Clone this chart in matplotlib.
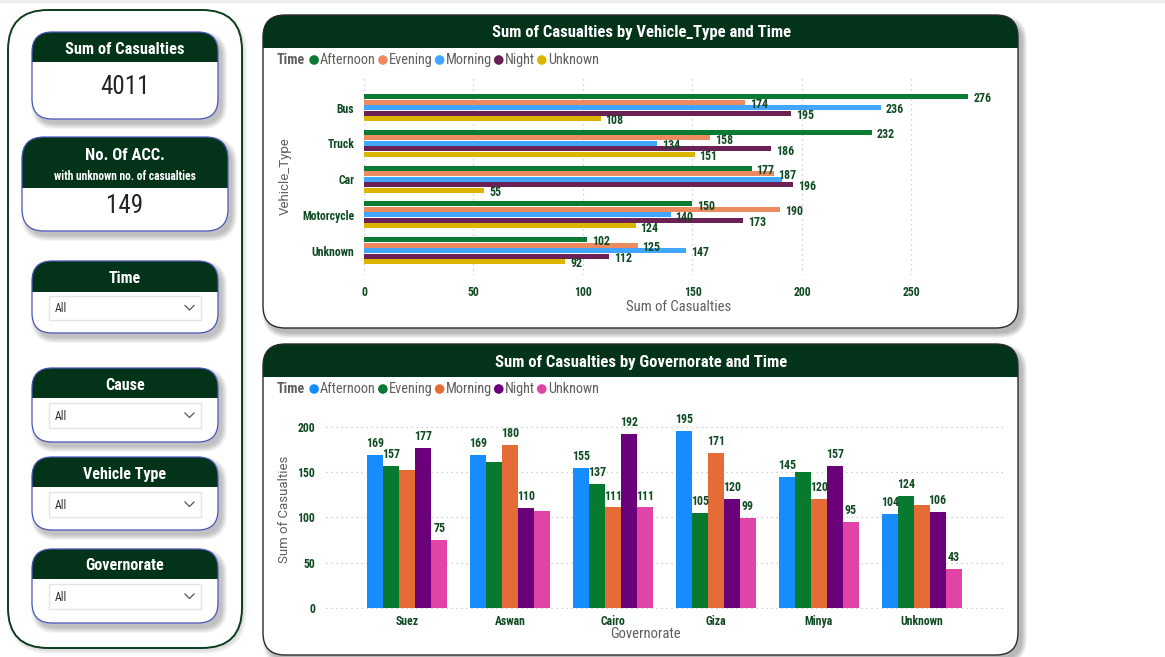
import matplotlib
matplotlib.use('Agg')
import matplotlib.pyplot as plt
from matplotlib.patches import FancyBboxPatch, Rectangle, Circle
from matplotlib import font_manager as fm
import numpy as np

# ---------------- data ----------------
time_levels = ['Afternoon', 'Evening', 'Morning', 'Night', 'Unknown']

vehicle_types = ['Bus', 'Truck', 'Car', 'Motorcycle', 'Unknown']
veh_afternoon = [276, 232, 177, 150, 102]
veh_evening = [174, 158, 187, 190, 125]
veh_morning = [236, 134, 191, 140, 147]
veh_night = [195, 186, 196, 173, 112]
veh_unknown = [108, 151, 55, 124, 92]
veh_hidden_labels = [('Car', 'Morning')]

governorates = ['Suez', 'Aswan', 'Cairo', 'Giza', 'Minya', 'Unknown']
gov_afternoon = [169, 169, 155, 195, 145, 104]
gov_evening = [157, 161, 137, 105, 150, 124]
gov_morning = [152, 180, 111, 171, 120, 114]
gov_night = [177, 110, 192, 120, 157, 106]
gov_unknown = [75, 107, 111, 99, 95, 43]
gov_hidden_labels = [('Suez', 'Morning'), ('Aswan', 'Evening'), ('Aswan', 'Unknown'),
                     ('Minya', 'Evening'), ('Unknown', 'Morning')]

veh_ticks = [0, 50, 100, 150, 200, 250]
gov_ticks = [0, 50, 100, 150, 200]

total_casualties = 4011
unknown_casualty_accidents = 149
slicers = ['Time', 'Cause', 'Vehicle Type', 'Governorate']
slicer_value = 'All'

# ---------------- style ----------------
W, H = 1165, 657
GREEN = '#03341a'
CARD_EC = '#4b56b8'
LBL = '#0f4a22'
GRAY = '#605E5C'
top_colors = ['#0b7a32', '#ec8b5f', '#42a5ff', '#6c2155', '#dcb500']
bot_colors = ['#168dff', '#087a2f', '#e66c37', '#6b007b', '#e044a7']

avail = {f.name for f in fm.fontManager.ttflist}
COND, STRETCH, K = 'Roboto', 'normal', 0.9
for cand in ['Roboto Condensed', 'Liberation Sans Narrow', 'DejaVu Sans Condensed']:
    if cand in avail:
        COND, STRETCH, K = cand, 'normal', 1.0
        break
else:
    if any(f.name == 'DejaVu Sans' and str(f.stretch) == 'condensed' for f in fm.fontManager.ttflist):
        COND, STRETCH, K = 'DejaVu Sans', 'condensed', 0.95
CF = dict(family=COND, stretch=STRETCH)
REG = 'Roboto'

fig = plt.figure(figsize=(W / 100, H / 100), dpi=100)
fig.patch.set_facecolor('white')
bg = fig.add_axes([0, 0, 1, 1], zorder=0)
bg.set_xlim(0, W)
bg.set_ylim(H, 0)
bg.axis('off')


def rrect(x0, y0, x1, y1, r, fc='none', ec='none', lw=0, z=1, alpha=1.0, clip=None):
    p = FancyBboxPatch((x0, y0), x1 - x0, y1 - y0,
                       boxstyle=f"round,pad=0,rounding_size={r}",
                       fc=fc, ec=ec, lw=lw, zorder=z, alpha=alpha,
                       transform=bg.transData)
    bg.add_patch(p)
    if clip is not None:
        cr = Rectangle((clip[0], clip[1]), clip[2] - clip[0], clip[3] - clip[1],
                       transform=bg.transData, fc='none', ec='none')
        p.set_clip_path(cr)
    return p


def shadow(x0, y0, x1, y1, r, dx=4, dy=5, n=6, alpha=0.045, z=1):
    for i in range(n):
        rrect(x0 + dx - i, y0 + dy - i, x1 + dx + i, y1 + dy + i, r + i,
              fc='black', alpha=alpha, z=z)


def card(x0, y0, x1, y1, hy, r=20):
    shadow(x0, y0, x1, y1, r, z=2)
    rrect(x0, y0, x1, y1, r, fc='white', z=3)
    rrect(x0, y0, x1, y1, r, fc=GREEN, z=4, clip=(x0 - 2, y0 - 2, x1 + 2, hy))
    rrect(x0, y0, x1, y1, r, ec=CARD_EC, lw=0.9, z=5)


# top gray band
bg.add_patch(Rectangle((0, 0), W, 3, fc='#ececec', ec='none', zorder=1))

# ---------------- left panel ----------------
shadow(8, 10, 242, 648, 40, dx=2, dy=3, n=4, alpha=0.03, z=1)
rrect(8, 10, 242, 648, 40, fc='white', ec='#0b3d1c', lw=1.4, z=1.5)

# KPI 1
card(32, 32, 218, 119, 62)
bg.text(125, 49, 'Sum of Casualties', color='white', fontweight='bold', size=11.8 * K,
        ha='center', va='center', zorder=6, **CF)
bg.text(125, 87, f'{total_casualties}', color='#252423', size=18 * K,
        ha='center', va='center', zorder=6, **CF)

# KPI 2
card(22, 137, 228, 231, 188, r=22)
bg.text(125, 156, 'No. Of ACC.', color='white', fontweight='bold', size=12 * K,
        ha='center', va='center', zorder=6, **CF)
bg.text(125, 177, 'with unknown no. of casualties', color='white', fontweight='bold',
        size=8.3 * K, ha='center', va='center', zorder=6, **CF)
bg.text(125, 206, f'{unknown_casualty_accidents}', color='#252423', size=18 * K,
        ha='center', va='center', zorder=6, **CF)

# slicers
slicer_boxes = [(261, 292, 333, 296, 320), (368, 398, 442, 403, 428),
                (457, 487, 530, 492, 517), (549, 579, 623, 584, 609)]
for name, (t, hy, b, d0, d1) in zip(slicers, slicer_boxes):
    card(32, t, 218, b, hy)
    bg.text(125, (t + hy) / 2 + 2, name, color='white', fontweight='bold', size=11.5 * K,
            ha='center', va='center', zorder=6, **CF)
    bg.add_patch(Rectangle((49, d0), 152, d1 - d0, fc='white', ec='#e4e4e4', lw=1, zorder=6))
    cy = (d0 + d1) / 2
    bg.text(55, cy + 1, slicer_value, color='#333333', size=8.5 * K, ha='left', va='center',
            zorder=7, **CF)
    bg.plot([185, 189.5, 194], [cy - 2.5, cy + 2, cy - 2.5], color='#555555', lw=0.9, zorder=7)


# ---------------- chart panels ----------------
def panel(x0, y0, x1, y1, hy, title):
    shadow(x0, y0, x1, y1, 22, dx=4, dy=5, n=6, alpha=0.05, z=1)
    rrect(x0, y0, x1, y1, 22, fc='white', z=2)
    rrect(x0, y0, x1, y1, 22, fc=GREEN, z=3, clip=(x0 - 2, y0 - 2, x1 + 2, hy))
    rrect(x0, y0, x1, y1, 22, ec='#2b2b2b', lw=1.0, z=4)
    bg.text((x0 + x1) / 2 + 1, (y0 + hy) / 2 + 1.5, title, color='white', fontweight='bold',
            size=12 * K, ha='center', va='center', zorder=5, **CF)


panel(263, 15, 1018, 328, 48, 'Sum of Casualties by Vehicle_Type and Time')
panel(263, 344, 1018, 655, 377, 'Sum of Casualties by Governorate and Time')

renderer = fig.canvas.get_renderer()


def legend(y, colors):
    t = bg.text(277, y, 'Time', color=GRAY, fontweight='bold', size=10 * K, ha='left',
                va='center', zorder=6, **CF)
    x = t.get_window_extent(renderer).x1 + 4
    for name, c in zip(time_levels, colors):
        bg.add_patch(Circle((x + 5, y), 4.8, fc=c, ec='none', zorder=6))
        tt = bg.text(x + 11, y, name, color=GRAY, size=10.3 * K, ha='left', va='center',
                     zorder=6, **CF)
        x = tt.get_window_extent(renderer).x1 + 2


legend(60, top_colors)
legend(389, bot_colors)


def px_axes(l, t, r, b):
    a = fig.add_axes([l / W, 1 - b / H, (r - l) / W, (b - t) / H], zorder=10)
    a.set_facecolor('none')
    for s in a.spines.values():
        s.set_visible(False)
    return a


# ---------------- top chart ----------------
ax1 = px_axes(364, 78, 1005, 275)
veh_series = [veh_afternoon, veh_evening, veh_morning, veh_night, veh_unknown]
cat_y = np.arange(len(vehicle_types))
step, bh = 0.154, 0.138
for i, (vals, col, tl) in enumerate(zip(veh_series, top_colors, time_levels)):
    ys = cat_y + (i - 2) * step
    ax1.barh(ys, vals, height=bh, color=col, zorder=3)
    for cat, yy, v in zip(vehicle_types, ys, vals):
        if (cat, tl) in veh_hidden_labels:
            continue
        ax1.annotate(f'{v}', (v, yy), xytext=(3.5, -1.5), textcoords='offset points',
                     ha='left', va='center', color=LBL, fontweight='bold', size=8.6 * K,
                     zorder=5, **CF)
ax1.set_xlim(0, 292.7)
ax1.set_ylim(4.68, -0.83)
ax1.set_xticks(veh_ticks)
ax1.set_yticks(cat_y)
ax1.set_yticklabels(vehicle_types)
ax1.tick_params(length=0, colors=LBL, labelsize=8.5 * K)
ax1.tick_params(axis='y', pad=7)
ax1.tick_params(axis='x', pad=8)
for lab in ax1.get_xticklabels() + ax1.get_yticklabels():
    lab.set_fontweight('bold')
    lab.set_family(COND)
    lab.set_stretch(STRETCH)
ax1.grid(axis='x', linestyle=(0, (1, 3)), color='#c4c4c4', lw=0.9, zorder=0)
ax1.set_axisbelow(True)
ax1.set_xlabel('Sum of Casualties', color=GRAY, size=10.5 * K, family=COND, stretch=STRETCH)
ax1.xaxis.set_label_coords((679 - 364) / (1005 - 364), (275 - 307) / (275 - 78))
ax1.xaxis.label.set_va('center')
ax1.set_ylabel('Vehicle_Type', color=GRAY, size=9.5 * K, family=REG)
ax1.yaxis.set_label_coords((285 - 364) / (1005 - 364), 0.5)
ax1.yaxis.label.set_va('center')

# ---------------- bottom chart ----------------
ax2 = px_axes(326, 410, 1005, 609)
gov_series = [gov_afternoon, gov_evening, gov_morning, gov_night, gov_unknown]
cx = np.arange(len(governorates))
bw = 0.155
for i, (vals, col, tl) in enumerate(zip(gov_series, bot_colors, time_levels)):
    xs = cx + (i - 2) * bw
    ax2.bar(xs, vals, width=bw, color=col, zorder=3)
    for cat, xx, v in zip(governorates, xs, vals):
        if (cat, tl) in gov_hidden_labels:
            continue
        ax2.annotate(f'{v}', (xx, v), xytext=(0, 3.5), textcoords='offset points',
                     ha='center', va='bottom', color=LBL, fontweight='bold', size=8.6 * K,
                     zorder=5, **CF)
ax2.set_xlim(-0.79, 5.81)
ax2.set_ylim(-1, 218.4)
ax2.set_yticks(gov_ticks)
ax2.set_xticks(cx)
ax2.set_xticklabels(governorates)
ax2.tick_params(length=0, colors=LBL, labelsize=8.5 * K)
ax2.tick_params(axis='y', pad=8)
ax2.tick_params(axis='x', pad=4)
for lab in ax2.get_xticklabels() + ax2.get_yticklabels():
    lab.set_fontweight('bold')
    lab.set_family(COND)
    lab.set_stretch(STRETCH)
ax2.grid(axis='y', linestyle=(0, (1, 3)), color='#c4c4c4', lw=0.9, zorder=0)
ax2.set_axisbelow(True)
ax2.set_xlabel('Governorate', color=GRAY, size=10.5 * K, family=COND, stretch=STRETCH)
ax2.xaxis.set_label_coords((645 - 326) / (1005 - 326), (609 - 634) / (609 - 410))
ax2.xaxis.label.set_va('center')
ax2.set_ylabel('Sum of Casualties', color=GRAY, size=9.5 * K, family=REG)
ax2.yaxis.set_label_coords((284 - 326) / (1005 - 326), 0.5)
ax2.yaxis.label.set_va('center')

fig.savefig('out.png', dpi=100, facecolor='white')
